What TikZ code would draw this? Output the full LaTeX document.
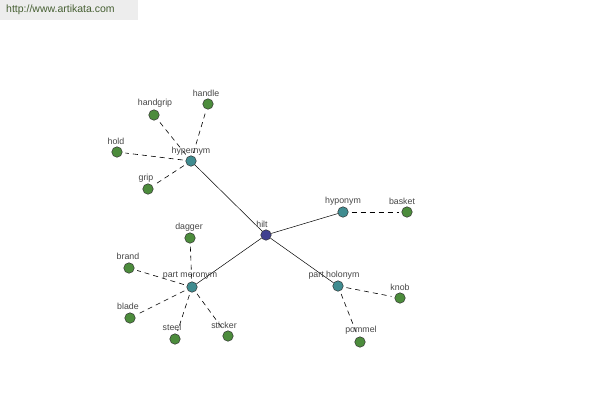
\documentclass[tikz,border=0pt]{standalone}
\usepackage{fontspec}
\setmainfont{Liberation Sans}
\begin{document}
\begin{tikzpicture}[x=1pt,y=-1pt,
  vnode/.style={circle,draw=black!80,line width=0.5pt,minimum size=10.5pt,inner sep=0pt},
  hub/.style={vnode,fill={rgb,255:red,64;green,64;blue,144}},
  rel/.style={vnode,fill={rgb,255:red,64;green,140;blue,144}},
  leaf/.style={vnode,fill={rgb,255:red,76;green,140;blue,60}},
  lbl/.style={font=\fontsize{8.8}{9}\selectfont,text={rgb,255:red,70;green,70;blue,70},inner sep=0pt},
  solidlink/.style={line width=0.5pt,black},
  dashlink/.style={line width=0.6pt,black,dash pattern=on 5pt off 4pt,shorten <=3pt,shorten >=3pt}]
\useasboundingbox (0,0) rectangle (600,400);
\fill[white] (0,0) rectangle (600,400);
\fill[black!7] (0,0) rectangle (138,20);
\node[font=\fontsize{10.5}{11}\selectfont,text={rgb,255:red,70;green,95;blue,50},anchor=west,inner sep=0pt] (wm) at (6,10) {http://www.artikata.com};

% nodes
\node[hub] (hilt) at (266,235) {};
\node[rel] (hyper) at (191,161) {};
\node[rel] (hypo) at (343,212) {};
\node[rel] (phol) at (338,286) {};
\node[rel] (pmer) at (192,287) {};
\node[leaf] (handgrip) at (154,115) {};
\node[leaf] (handle) at (208,104) {};
\node[leaf] (hold) at (117,152) {};
\node[leaf] (grip) at (148,189) {};
\node[leaf] (basket) at (407,212) {};
\node[leaf] (knob) at (400,298) {};
\node[leaf] (pommel) at (360,342) {};
\node[leaf] (dagger) at (190,238) {};
\node[leaf] (brand) at (129,268) {};
\node[leaf] (blade) at (130,318) {};
\node[leaf] (steel) at (175,339) {};
\node[leaf] (sticker) at (228,336) {};

% links
\draw[solidlink] (hilt) -- (hyper);
\draw[solidlink] (hilt) -- (hypo);
\draw[solidlink] (hilt) -- (phol);
\draw[solidlink] (hilt) -- (pmer);
\draw[dashlink] (hyper) -- (handgrip);
\draw[dashlink] (hyper) -- (handle);
\draw[dashlink] (hyper) -- (hold);
\draw[dashlink] (hyper) -- (grip);
\draw[dashlink] (hypo) -- (basket);
\draw[dashlink] (phol) -- (knob);
\draw[dashlink] (phol) -- (pommel);
\draw[dashlink] (pmer) -- (dagger);
\draw[dashlink] (pmer) -- (brand);
\draw[dashlink] (pmer) -- (blade);
\draw[dashlink] (pmer) -- (steel);
\draw[dashlink] (pmer) -- (sticker);

% labels
\node[lbl] (lhilt) at (262,224) {hilt};
\node[lbl] (lhyper) at (191,151) {hypernym};
\node[lbl] (lhypo) at (343,201) {hyponym};
\node[lbl] (lphol) at (334,275) {part holonym};
\node[lbl] (lpmer) at (190,276) {part meronym};
\node[lbl] (lhandgrip) at (155,103) {handgrip};
\node[lbl] (lhandle) at (206,93) {handle};
\node[lbl] (lhold) at (116,141) {hold};
\node[lbl] (lgrip) at (146,178) {grip};
\node[lbl] (lbasket) at (402,201) {basket};
\node[lbl] (lknob) at (400,287) {knob};
\node[lbl] (lpommel) at (361,330) {pommel};
\node[lbl] (ldagger) at (189,227) {dagger};
\node[lbl] (lbrand) at (128,256) {brand};
\node[lbl] (lblade) at (128,306) {blade};
\node[lbl] (lsteel) at (172,327) {steel};
\node[lbl] (lsticker) at (224,325) {sticker};
\end{tikzpicture}
\end{document}
